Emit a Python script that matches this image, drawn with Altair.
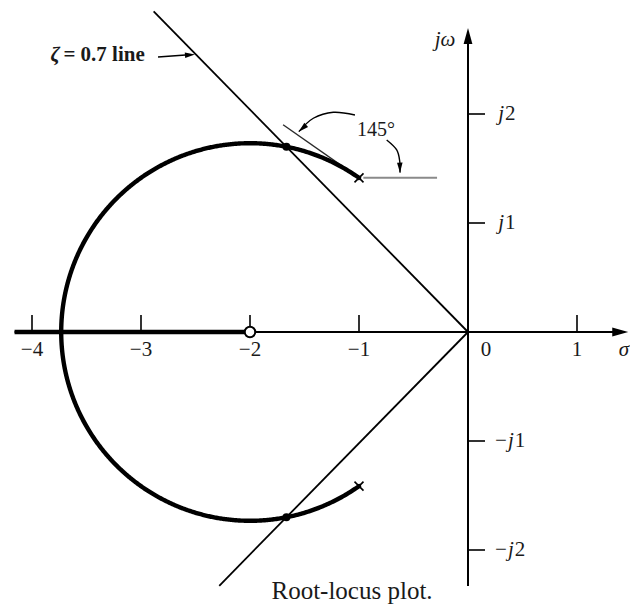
import numpy as np
import pandas as pd
import altair as alt

# ---- system: G(s)H(s) = K (s + 2) / (s^2 + 2 s + 3) ----
num = [1.0, 2.0]
den = [1.0, 2.0, 3.0]
zeta = 0.7

pole_re = [-1.0, -1.0]
pole_im = [1.4142, -1.4142]
zero_re = [-2.0]
zero_im = [0.0]

# ---- axis ticks ----
sigma_ticks = [-4, -3, -2, -1, 1]
sigma_labels = ["−4", "−3", "−2", "−1", "1"]
omega_ticks = [2, 1, -1, -2]
omega_prefix = ["j", "j", "−j", "−j"]
omega_digits = ["2", "1", "1", "2"]

# ---- canvas layout (equal units on both axes) ----
W, H = 630, 608
UNIT = 109.0                 # pixels per unit
ORIGIN = (468.0, 332.0)      # pixel position of s = 0
x_dom = [-ORIGIN[0] / UNIT, (W - ORIGIN[0]) / UNIT]
y_dom = [-(H - ORIGIN[1]) / UNIT, ORIGIN[1] / UNIT]
xs = alt.Scale(domain=x_dom, nice=False, zero=False)
ys = alt.Scale(domain=y_dom, nice=False, zero=False)

SIGMA_MIN, SIGMA_MAX = -4.16, 1.47   # extent of the real axis
OMEGA_MIN, OMEGA_MAX = -2.33, 2.79   # extent of the imaginary axis
FONT = "Liberation Serif"
INK = "#1a1a1a"


def X(f="x"):
    return alt.X(f"{f}:Q", scale=xs, axis=None)


def Y(f="y"):
    return alt.Y(f"{f}:Q", scale=ys, axis=None)


def seg(rows):
    return pd.DataFrame(rows, columns=["x", "y", "x2", "y2"])


def rule_layer(df, **kw):
    return alt.Chart(df).mark_rule(**kw).encode(
        x=X(), y=Y(), x2=alt.X2("x2:Q"), y2=alt.Y2("y2:Q"))


# ---- complex branches of the root locus: sweep the gain down to the poles ----
k_break = max(np.roots([1.0, -4.0, -8.0]).real)   # discriminant of the closed-loop poly
u = np.linspace(0.0, 1.0, 400)
gains = k_break * (1.0 - u ** 2)
rows = []
for i, k in enumerate(gains):
    r = np.roots(np.polyadd(den, k * np.array(num)))
    r = sorted(r, key=lambda z: z.imag)
    rows.append({"branch": "lower", "i": i, "x": r[0].real, "y": -abs(r[0].imag)})
    rows.append({"branch": "upper", "i": i, "x": r[1].real, "y": abs(r[1].imag)})
locus_df = pd.DataFrame(rows)

# closed-loop poles on the zeta line: |s - z|^2 = |p - z|^2 with s = r(-zeta + j sqrt(1-zeta^2))
c = zero_re[0]
R2 = (pole_re[0] - c) ** 2 + pole_im[0] ** 2
r_dot = max(np.roots([1.0, 2 * zeta * c, c ** 2 - R2]).real)
dot_x = -zeta * r_dot
dot_y = r_dot * np.sqrt(1 - zeta ** 2)
dots_df = pd.DataFrame({"x": [dot_x, dot_x], "y": [dot_y, -dot_y]})

# ---- straight lines ----
axes_df = seg([[SIGMA_MIN, 0, 1.40, 0], [0, OMEGA_MIN, 0, 2.72]])
tick_len = 17 / UNIT
ticks_df = seg([[t, 0, t, tick_len] for t in sigma_ticks] +
               [[0, t, tick_len, t] for t in omega_ticks])
cz, sz = -zeta, np.sqrt(1 - zeta ** 2)
zeta_df = seg([[0, 0, 4.12 * cz, 4.12 * sz], [0, 0, 3.26 * cz, -3.26 * sz]])
dep = np.deg2rad(145.0)
tangent_df = seg([[pole_re[0], pole_im[0],
                   pole_re[0] + 0.85 * np.cos(dep), pole_im[0] + 0.85 * np.sin(dep)]])
ref_df = seg([[pole_re[0] + 0.04, pole_im[0], -0.284, pole_im[0]]])
real_locus_df = seg([[SIGMA_MIN, 0, zero_re[0], 0]])

# ---- curved pointers for the 145 degree angle ----
arc1 = [(-1.037, 1.991), (-1.236, 2.016), (-1.419, 1.961), (-1.552, 1.838)]
arc2 = [(-0.746, 1.761), (-0.654, 1.670), (-0.626, 1.563), (-0.624, 1.462)]
curve_df = pd.DataFrame(
    [{"c": "a", "i": i, "x": p[0], "y": p[1]} for i, p in enumerate(arc1)] +
    [{"c": "b", "i": i, "x": p[0], "y": p[1]} for i, p in enumerate(arc2)])

# zeta label pointer
zlabel_tip = (-2.505, 2.546)
zshaft_df = seg([[-2.844, 2.523, -2.56, 2.543]])


def head(tip, prev, length, size):
    dx, dy = tip[0] - prev[0], tip[1] - prev[1]
    n = np.hypot(dx, dy)
    ux, uy = dx / n, dy / n
    half = 0.5 * length / UNIT
    ang = np.degrees(np.arctan2(ux, uy)) % 360
    return {"x": tip[0] - half * ux, "y": tip[1] - half * uy, "angle": ang, "size": size}


heads_df = pd.DataFrame([
    head((SIGMA_MAX, 0), (0, 0), 16, 256),
    head((0, OMEGA_MAX), (0, 0), 16, 256),
    head(zlabel_tip, (-2.844, 2.523), 10, 100),
    head(arc1[-1], arc1[-2], 10, 100),
    head(arc2[-1], arc2[-2], 10, 100),
])
ARROW = "M0,-1L0.55,1L-0.55,1Z"
CROSS = "M-1,-1L1,1M-1,1L1,-1"

# ---- text ----
sig_lab_df = pd.DataFrame({"x": sigma_ticks + [0.165], "y": -0.165,
                           "t": sigma_labels + ["0"]})
om_anchor = [0.33 if p == "j" else 0.42 for p in omega_prefix]
om_df = pd.DataFrame({"x": om_anchor, "y": omega_ticks,
                      "p": omega_prefix, "d": omega_digits})

layers = [
    rule_layer(axes_df, color="black", strokeWidth=2),
    rule_layer(ticks_df, color="black", strokeWidth=1.6),
    rule_layer(zeta_df, color="black", strokeWidth=1.8),
    rule_layer(tangent_df, color="#2a2a2a", strokeWidth=1.4),
    rule_layer(ref_df, color="#8a8a8a", strokeWidth=2),
    rule_layer(zshaft_df, color="black", strokeWidth=1.6),
    rule_layer(real_locus_df, color="black", strokeWidth=4.5),
    alt.Chart(locus_df).mark_line(color="black", strokeWidth=4.4, strokeCap="round").encode(
        x=X(), y=Y(), detail="branch:N", order="i:Q"),
    alt.Chart(curve_df).mark_line(color="black", strokeWidth=1.4, interpolate="cardinal").encode(
        x=X(), y=Y(), detail="c:N", order="i:Q"),
    alt.Chart(heads_df).mark_point(shape=ARROW, filled=True, color="black", opacity=1).encode(
        x=X(), y=Y(), angle=alt.Angle("angle:Q", scale=None),
        size=alt.Size("size:Q", scale=None)),
    alt.Chart(pd.DataFrame({"x": pole_re, "y": pole_im})).mark_point(
        shape=CROSS, filled=False, color="black", strokeWidth=1.6, size=81, opacity=1).encode(
        x=X(), y=Y()),
    alt.Chart(dots_df).mark_circle(color="black", size=64, opacity=1).encode(x=X(), y=Y()),
    alt.Chart(pd.DataFrame({"x": zero_re, "y": zero_im})).mark_point(
        shape="circle", filled=True, fill="white", stroke="black", strokeWidth=2,
        size=110, opacity=1).encode(x=X(), y=Y()),
    # tick labels
    alt.Chart(sig_lab_df).mark_text(font=FONT, fontSize=21, color=INK, align="center",
                                    baseline="middle").encode(x=X(), y=Y(), text="t:N"),
    alt.Chart(om_df).mark_text(font=FONT, fontSize=21, fontStyle="italic", color=INK,
                               align="right", baseline="middle").encode(x=X(), y=Y(), text="p:N"),
    alt.Chart(om_df).mark_text(font=FONT, fontSize=21, color=INK, align="left",
                               baseline="middle", dx=1).encode(x=X(), y=Y(), text="d:N"),
    # axis names
    alt.Chart(pd.DataFrame({"x": [1.43, -0.211], "y": [-0.165, 2.679], "t": ["σ", "jω"]})).mark_text(
        font=FONT, fontSize=21, fontStyle="italic", color=INK, align="center",
        baseline="middle").encode(x=X(), y=Y(), text="t:N"),
    # annotations
    alt.Chart(pd.DataFrame({"x": [-0.844], "y": [1.853], "t": ["145°"]})).mark_text(
        font=FONT, fontSize=20, color=INK, align="center", baseline="middle").encode(
        x=X(), y=Y(), text="t:N"),
    alt.Chart(pd.DataFrame({"x": [-3.745], "y": [2.541], "t": ["ζ"]})).mark_text(
        font=FONT, fontSize=21, fontStyle="italic", fontWeight="bold", color=INK,
        align="right", baseline="middle").encode(x=X(), y=Y(), text="t:N"),
    alt.Chart(pd.DataFrame({"x": [-3.712], "y": [2.541], "t": ["= 0.7 line"]})).mark_text(
        font=FONT, fontSize=21, fontWeight="bold", color=INK,
        align="left", baseline="middle").encode(x=X(), y=Y(), text="t:N"),
    alt.Chart(pd.DataFrame({"x": [-1.064], "y": [-2.453], "t": ["Root-locus plot."]})).mark_text(
        font=FONT, fontSize=25, color=INK, align="center", baseline="alphabetic").encode(
        x=X(), y=Y(), text="t:N"),
]

chart = alt.layer(*layers).properties(
    width=W, height=H, padding=0, autosize=alt.AutoSizeParams(type="none"),
    background="white",
).configure_view(strokeWidth=0)

chart.save("out.html", embed_options={"renderer": "svg", "actions": False})
